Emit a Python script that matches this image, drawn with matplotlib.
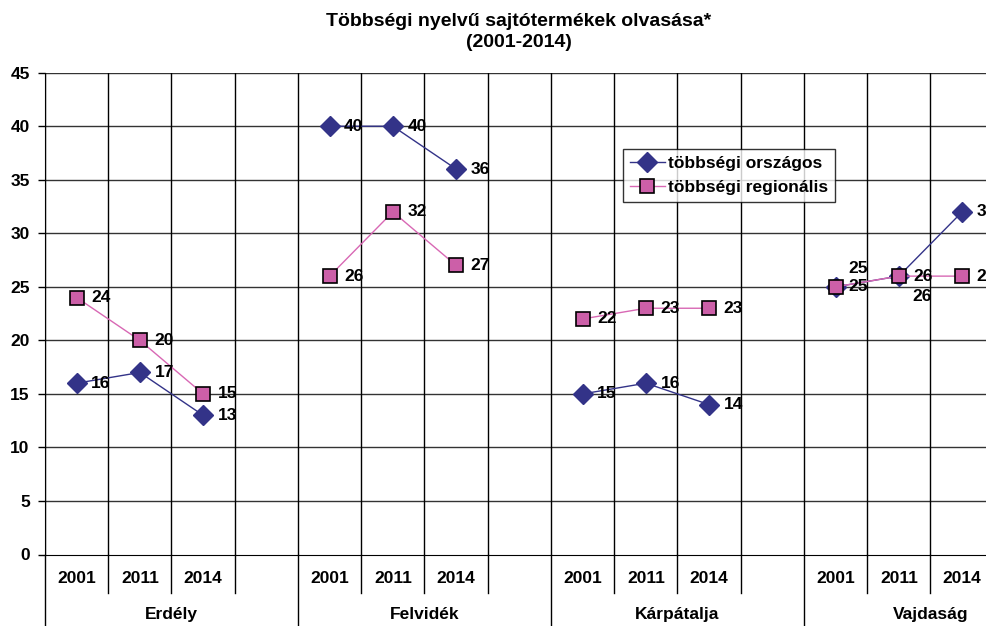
import numpy as np
import matplotlib
matplotlib.use("Agg")
import matplotlib.pyplot as plt

plt.rcParams['font.family'] = ['Liberation Sans', 'DejaVu Sans']
plt.rcParams['font.weight'] = 'bold'

title = "Többségi nyelvű sajtótermékek olvasása*\n(2001-2014)"
regions = ["Erdély", "Felvidék", "Kárpátalja", "Vajdaság"]
years = ["2001", "2011", "2014", ""]
orszagos = [16, 17, 13, np.nan, 40, 40, 36, np.nan, 15, 16, 14, np.nan, 25, 26, 32, np.nan]
regionalis = [24, 20, 15, np.nan, 26, 32, 27, np.nan, 22, 23, 23, np.nan, 25, 26, 26, np.nan]
series_names = ["többségi országos", "többségi regionális"]

navy = "#333388"
pink_fill = "#CC5FA8"
pink_line = "#D868B4"

fig = plt.figure(figsize=(9.87, 6.26), dpi=100)
# plot area runs past the right edge like in the original
ax = fig.add_axes([45 / 987, 1 - 554.5 / 626, 1012 / 987, 481.8 / 626])

n = len(orszagos)
x = np.arange(n)

ax.plot(x, orszagos, color=navy, lw=1, marker="D", markersize=10,
        markerfacecolor=navy, markeredgecolor=navy, label=series_names[0], zorder=4)
ax.plot(x, regionalis, color=pink_line, lw=1, marker="s", markersize=10,
        markerfacecolor=pink_fill, markeredgecolor="black", markeredgewidth=1.2,
        label=series_names[1], zorder=5)

ax.set_xlim(-0.5, n - 0.5)
ax.set_ylim(0, 45)
ax.set_yticks(np.arange(0, 46, 5))
ax.tick_params(axis="y", length=5, width=1, pad=6, labelsize=12.5)
for lab in ax.get_yticklabels():
    lab.set_fontweight("bold")

# horizontal grid
for yv in np.arange(5, 46, 5):
    ax.axhline(yv, color="#333333", lw=1, zorder=1)

# category boundaries: grid lines + separators below the axis
xtr = ax.get_xaxis_transform()
for k in range(n + 1):
    b = k - 0.5
    ax.plot([b, b], [0, 1], color="black", lw=1, transform=xtr, zorder=1)
    low = -0.16 if k % 4 == 0 else -0.079
    ax.plot([b, b], [0, low], color="black", lw=1, transform=xtr, clip_on=False)

ax.set_xticks(x)
ax.set_xticklabels(years * len(regions), fontsize=12.5, fontweight="bold")
ax.tick_params(axis="x", length=0, pad=17)
for lab in ax.get_xticklabels():
    lab.set_va("center")

for g, reg in enumerate(regions):
    ax.annotate(reg, xy=(4 * g + 1.5, 0), xycoords=xtr, xytext=(0, -43.5),
                textcoords="offset points", ha="center", va="center",
                fontsize=12.5, fontweight="bold", annotation_clip=False)

for side in ["top", "right"]:
    ax.spines[side].set_visible(False)
ax.spines["left"].set_color("black")
ax.spines["bottom"].set_color("black")
ax.spines["left"].set_zorder(3)

# data labels (a few moved by hand like in the original)
moves = {(0, 12): (9, 13), (0, 13): (10, -14.5), (1, 12): (9, 0)}
for si, vals in enumerate([orszagos, regionalis]):
    for i, v in enumerate(vals):
        if np.isnan(v):
            continue
        dx, dy = moves.get((si, i), (10.5, 0))
        ax.annotate(f"{v:.0f}", xy=(i, v), xytext=(dx, dy), textcoords="offset points",
                    ha="left", va="center", fontsize=12.5, fontweight="bold",
                    annotation_clip=False, zorder=6)

leg = ax.legend(loc="upper left", bbox_to_anchor=(623 / 987, 1 - 149 / 626),
                bbox_transform=fig.transFigure, borderaxespad=0, fancybox=False,
                frameon=True, prop={"weight": "bold", "size": 12.5},
                handlelength=2.0, handletextpad=0.2, borderpad=0.4, labelspacing=0.5)
leg.get_frame().set_edgecolor("black")
leg.get_frame().set_linewidth(1)

fig.text(519 / 987, 1 - 32 / 626, title, ha="center", va="center",
         fontsize=14, fontweight="bold", linespacing=1.35)

fig.savefig("out.png", dpi=100)
